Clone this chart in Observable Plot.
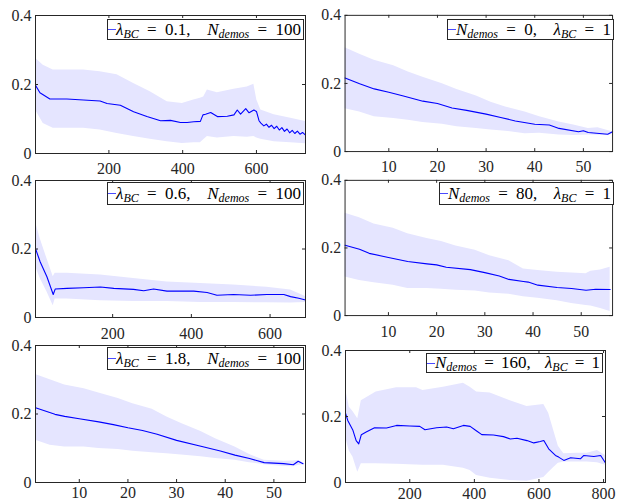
<!DOCTYPE html>
<html><head><meta charset="utf-8">
<script src="https://cdn.jsdelivr.net/npm/d3@7"></script>
<script src="https://cdn.jsdelivr.net/npm/@observablehq/plot@0.6"></script>
<style>
body{margin:0;background:#fff;}
#chart{position:relative;width:618px;height:502px;overflow:hidden;font-family:"Liberation Serif","Times New Roman","DejaVu Serif",serif;}
.panel{position:absolute;}
.panel svg{overflow:visible;}
.legend{position:absolute;box-sizing:border-box;border:1px solid #262626;background:#fff;font-size:17px;white-space:nowrap;display:flex;align-items:center;color:#000;padding-left:0;}
.legend .sw{display:inline-block;width:8px;height:0;border-top:1px solid #4a4aff;margin-right:0;}
.legend sub{font-size:12px;font-style:italic;vertical-align:-3px;line-height:0;}
</style></head><body><div id="chart"></div>
<script>
// ---------- data ----------
// Panel 1: lambda_BC = 0.1, N_demos = 100
const p1XDomain = [1, 733];
const p1XTicks = [200, 400, 600];
const p1LineX = [1, 13, 40, 86, 131, 176, 195, 231, 267, 303, 340, 367, 394, 412, 430, 448, 455, 462, 476, 494, 521, 539, 548, 557, 571, 580, 593, 600, 607, 612, 620, 627, 634, 641, 648, 655, 662, 669, 676, 683, 690, 697, 704, 711, 718, 725, 733];
const p1LineY = [0.198, 0.176, 0.158, 0.158, 0.155, 0.152, 0.145, 0.140, 0.121, 0.107, 0.095, 0.096, 0.090, 0.090, 0.092, 0.093, 0.112, 0.114, 0.119, 0.107, 0.108, 0.112, 0.126, 0.114, 0.130, 0.118, 0.126, 0.122, 0.095, 0.088, 0.080, 0.085, 0.076, 0.082, 0.072, 0.079, 0.068, 0.075, 0.064, 0.071, 0.060, 0.067, 0.058, 0.065, 0.056, 0.061, 0.053];
const p1BandX = [1, 22, 49, 131, 176, 222, 267, 312, 358, 399, 430, 448, 457, 467, 494, 539, 575, 593, 601, 612, 648, 693, 733];
const p1BandHi = [0.276, 0.256, 0.242, 0.242, 0.237, 0.228, 0.203, 0.179, 0.150, 0.145, 0.155, 0.160, 0.164, 0.184, 0.176, 0.186, 0.193, 0.201, 0.155, 0.126, 0.112, 0.102, 0.093];
const p1BandLo = [0.126, 0.087, 0.073, 0.073, 0.068, 0.058, 0.049, 0.041, 0.034, 0.029, 0.031, 0.031, 0.040, 0.049, 0.045, 0.049, 0.047, 0.049, 0.045, 0.041, 0.034, 0.031, 0.028];

// Panel 2: N_demos = 0, lambda_BC = 1
const p2XDomain = [1, 56];
const p2XTicks = [10, 20, 30, 40, 50];
const p2LineX = [1, 4, 7, 10, 13, 17, 20, 23, 26, 30, 33, 36, 40, 43, 45, 49, 50, 51, 55, 56];
const p2LineY = [0.216, 0.199, 0.184, 0.174, 0.163, 0.148, 0.141, 0.128, 0.121, 0.110, 0.100, 0.090, 0.080, 0.078, 0.068, 0.058, 0.061, 0.056, 0.051, 0.058];
const p2BandX = [1, 4, 7, 11, 14, 17, 21, 24, 28, 31, 34, 38, 41, 45, 48, 51, 53, 55, 56];
const p2BandHi = [0.305, 0.286, 0.268, 0.252, 0.234, 0.218, 0.199, 0.182, 0.163, 0.145, 0.131, 0.116, 0.102, 0.087, 0.078, 0.068, 0.070, 0.062, 0.058];
const p2BandLo = [0.126, 0.116, 0.102, 0.097, 0.092, 0.085, 0.080, 0.073, 0.068, 0.063, 0.060, 0.052, 0.054, 0.049, 0.047, 0.049, 0.048, 0.047, 0.051];

// Panel 3: lambda_BC = 0.6, N_demos = 100
const p3XDomain = [4, 690];
const p3XTicks = [200, 400, 600];
const p3LineX = [4, 16, 33, 49, 54, 84, 126, 169, 203, 253, 279, 304, 338, 380, 406, 440, 465, 507, 550, 592, 635, 652, 673, 690];
const p3LineY = [0.201, 0.162, 0.119, 0.067, 0.083, 0.085, 0.087, 0.089, 0.085, 0.082, 0.078, 0.083, 0.077, 0.077, 0.077, 0.073, 0.065, 0.067, 0.065, 0.067, 0.067, 0.061, 0.056, 0.051];
const p3BandX = [4, 16, 33, 49, 54, 84, 169, 253, 338, 423, 507, 592, 652, 690];
const p3BandHi = [0.279, 0.230, 0.172, 0.119, 0.129, 0.129, 0.124, 0.114, 0.104, 0.099, 0.095, 0.088, 0.080, 0.061];
const p3BandLo = [0.150, 0.114, 0.075, 0.034, 0.054, 0.054, 0.049, 0.047, 0.047, 0.044, 0.044, 0.043, 0.042, 0.044];

// Panel 4: N_demos = 80, lambda_BC = 1
const p4XDomain = [1, 56.5];
const p4XTicks = [10, 20, 30, 40, 50];
const p4LineX = [1, 4, 6, 10, 14, 18, 20, 22, 27, 30, 33, 35, 38, 39, 41, 45, 48, 51, 53, 56];
const p4LineY = [0.208, 0.196, 0.184, 0.172, 0.160, 0.153, 0.150, 0.143, 0.136, 0.127, 0.117, 0.107, 0.101, 0.099, 0.090, 0.083, 0.080, 0.075, 0.078, 0.077];
const p4BandX = [1, 4, 7, 11, 14, 18, 21, 24, 28, 31, 35, 38, 41, 45, 48, 51, 52, 54, 56];
const p4BandHi = [0.303, 0.289, 0.271, 0.258, 0.242, 0.228, 0.219, 0.206, 0.193, 0.177, 0.162, 0.138, 0.133, 0.128, 0.126, 0.124, 0.131, 0.135, 0.143];
const p4BandLo = [0.114, 0.104, 0.097, 0.090, 0.080, 0.080, 0.078, 0.075, 0.073, 0.067, 0.063, 0.056, 0.051, 0.044, 0.036, 0.030, 0.028, 0.021, 0.012];

// Panel 5: lambda_BC = 1.8, N_demos = 100
const p5XDomain = [1, 56.5];
const p5XTicks = [10, 20, 30, 40, 50];
const p5LineX = [1, 5, 7, 10, 14, 17, 20, 23, 26, 30, 35, 39, 42, 45, 48, 52, 54, 55, 56];
const p5LineY = [0.218, 0.199, 0.193, 0.186, 0.177, 0.169, 0.160, 0.152, 0.141, 0.123, 0.106, 0.092, 0.080, 0.070, 0.058, 0.055, 0.052, 0.062, 0.055];
const p5BandX = [1, 4, 7, 11, 14, 18, 21, 25, 28, 31, 35, 38, 42, 45, 48, 52, 54, 55, 56];
const p5BandHi = [0.315, 0.300, 0.285, 0.274, 0.261, 0.245, 0.230, 0.214, 0.191, 0.172, 0.149, 0.128, 0.104, 0.082, 0.065, 0.062, 0.063, 0.064, 0.058];
const p5BandLo = [0.123, 0.109, 0.104, 0.104, 0.099, 0.096, 0.091, 0.087, 0.084, 0.080, 0.075, 0.070, 0.065, 0.058, 0.052, 0.047, 0.046, 0.050, 0.052];

// Panel 6: N_demos = 160, lambda_BC = 1
const p6XDomain = [1, 806];
const p6XTicks = [200, 400, 600, 800];
const p6LineX = [1, 8, 24, 34, 42, 50, 65, 91, 128, 159, 200, 231, 247, 283, 314, 335, 366, 387, 407, 423, 459, 490, 511, 532, 563, 584, 604, 615, 630, 651, 661, 677, 698, 729, 739, 770, 791, 806];
const p6LineY = [0.210, 0.188, 0.158, 0.127, 0.117, 0.145, 0.153, 0.166, 0.165, 0.173, 0.171, 0.170, 0.160, 0.166, 0.168, 0.163, 0.173, 0.170, 0.156, 0.145, 0.144, 0.139, 0.132, 0.134, 0.127, 0.120, 0.124, 0.127, 0.102, 0.082, 0.077, 0.067, 0.075, 0.072, 0.082, 0.079, 0.082, 0.059];
const p6BandX = [1, 13, 24, 39, 50, 96, 159, 221, 241, 304, 366, 387, 407, 449, 511, 563, 615, 630, 645, 660, 677, 718, 749, 781, 806];
const p6BandHi = [0.284, 0.228, 0.215, 0.193, 0.248, 0.274, 0.287, 0.287, 0.279, 0.289, 0.301, 0.289, 0.274, 0.271, 0.248, 0.230, 0.236, 0.210, 0.160, 0.110, 0.087, 0.089, 0.089, 0.097, 0.082];
const p6BandLo = [0.137, 0.095, 0.077, 0.031, 0.057, 0.057, 0.055, 0.053, 0.052, 0.052, 0.043, 0.036, 0.021, 0.013, 0.006, 0.004, 0.015, 0.030, 0.045, 0.058, 0.062, 0.062, 0.062, 0.060, 0.052];

const yTicks = [0, 0.2, 0.4];
const legendLabels = [
  '<i>λ</i><sub>BC</sub>&nbsp;=&nbsp;0.1,&nbsp;&nbsp;<i>N</i><sub>demos</sub>&nbsp;=&nbsp;100',
  '<i>N</i><sub>demos</sub>&nbsp;=&nbsp;0,&nbsp;&nbsp;<i>λ</i><sub>BC</sub>&nbsp;=&nbsp;1',
  '<i>λ</i><sub>BC</sub>&nbsp;=&nbsp;0.6,&nbsp;&nbsp;<i>N</i><sub>demos</sub>&nbsp;=&nbsp;100',
  '<i>N</i><sub>demos</sub>&nbsp;=&nbsp;80,&nbsp;&nbsp;<i>λ</i><sub>BC</sub>&nbsp;=&nbsp;1',
  '<i>λ</i><sub>BC</sub>&nbsp;=&nbsp;1.8,&nbsp;&nbsp;<i>N</i><sub>demos</sub>&nbsp;=&nbsp;100',
  '<i>N</i><sub>demos</sub>&nbsp;=&nbsp;160,&nbsp;&nbsp;<i>λ</i><sub>BC</sub>&nbsp;=&nbsp;1'
];

// ---------- layout ----------
const series = [
  [p1XDomain, p1XTicks, p1LineX, p1LineY, p1BandX, p1BandLo, p1BandHi],
  [p2XDomain, p2XTicks, p2LineX, p2LineY, p2BandX, p2BandLo, p2BandHi],
  [p3XDomain, p3XTicks, p3LineX, p3LineY, p3BandX, p3BandLo, p3BandHi],
  [p4XDomain, p4XTicks, p4LineX, p4LineY, p4BandX, p4BandLo, p4BandHi],
  [p5XDomain, p5XTicks, p5LineX, p5LineY, p5BandX, p5BandLo, p5BandHi],
  [p6XDomain, p6XTicks, p6LineX, p6LineY, p6BandX, p6BandLo, p6BandHi]
];
const frames = [
  {x: 35, y: 15, w: 270, h: 138, pad: 9},
  {x: 345, y: 15, w: 271, h: 138, pad: 9},
  {x: 35, y: 180, w: 270, h: 137, pad: 10},
  {x: 345, y: 180, w: 271, h: 137, pad: 10},
  {x: 35, y: 345, w: 270, h: 137, pad: 4},
  {x: 345, y: 350, w: 260, h: 132, pad: 5}
];
const legendBoxes = [
  {x: 107, y: 19, w: 197, h: 21},
  {x: 447, y: 19, w: 167, h: 21},
  {x: 107, y: 182, w: 197, h: 23},
  {x: 439, y: 182, w: 175, h: 23},
  {x: 107, y: 347, w: 197, h: 23},
  {x: 426, y: 353, w: 177, h: 20}
];

const ML = 35, MT = 12, MR = 6, MB = 26, TL = 3;
const chart = document.getElementById("chart");
const ink = "#262626";
const fontStack = '"Liberation Serif", "Times New Roman", "DejaVu Serif", serif';

series.forEach(([xDomain, xTicks, lx, ly, bx, blo, bhi], i) => {
  const f = frames[i];
  const line = lx.map((x, k) => ({x, y: ly[k]}));
  const band = bx.map((x, k) => ({x, lo: blo[k], hi: bhi[k]}));
  const svg = Plot.plot({
    width: f.w + ML + MR,
    height: f.h + MT + MB,
    marginLeft: ML, marginRight: MR, marginTop: MT, marginBottom: MB,
    style: {fontFamily: fontStack, fontSize: "16px", color: ink, background: "transparent"},
    x: {domain: xDomain},
    y: {domain: [0, 0.4]},
    marks: [
      Plot.areaY(band, {x: "x", y1: "lo", y2: "hi", fill: "#e5e5ff"}),
      Plot.lineY(line, {x: "x", y: "y", stroke: "#0000ff", strokeWidth: 1.1}),
      Plot.frame({stroke: ink, strokeWidth: 1}),
      Plot.tickX(xTicks, {x: d => d, insetTop: f.h - TL, stroke: ink}),
      Plot.tickX(xTicks, {x: d => d, insetBottom: f.h - TL, stroke: ink}),
      Plot.tickY(yTicks, {y: d => d, insetRight: f.w - TL, stroke: ink}),
      Plot.tickY(yTicks, {y: d => d, insetLeft: f.w - TL, stroke: ink}),
      Plot.axisX({ticks: xTicks, tickSize: 0, tickPadding: f.pad, label: null, fill: ink, fontSize: 16, tickFormat: d => String(d)}),
      Plot.axisY({ticks: yTicks, tickSize: 0, tickPadding: 4, label: null, fill: ink, fontSize: 16, tickFormat: d => String(d)})
    ]
  });
  const wrap = document.createElement("div");
  wrap.className = "panel";
  wrap.style.left = (f.x - ML) + "px";
  wrap.style.top = (f.y - MT) + "px";
  wrap.appendChild(svg);
  chart.appendChild(wrap);

  const b = legendBoxes[i];
  const lg = document.createElement("div");
  lg.className = "legend";
  lg.style.left = b.x + "px";
  lg.style.top = b.y + "px";
  lg.style.width = b.w + "px";
  lg.style.height = b.h + "px";
  lg.innerHTML = '<span class="sw"></span><span class="tx">' + legendLabels[i] + '</span>';
  chart.appendChild(lg);
  // spread the legend text so it fills the box like the reference
  const tx = lg.querySelector(".tx");
  const r = tx.getBoundingClientRect();
  const targetRight = chart.getBoundingClientRect().left + b.x + b.w - 3;
  const nSpaces = (legendLabels[i].match(/&nbsp;/g) || []).length;
  const extra = (targetRight - r.right) / nSpaces;
  if (extra > 0) tx.style.wordSpacing = extra.toFixed(2) + "px";
});
</script></body></html>
